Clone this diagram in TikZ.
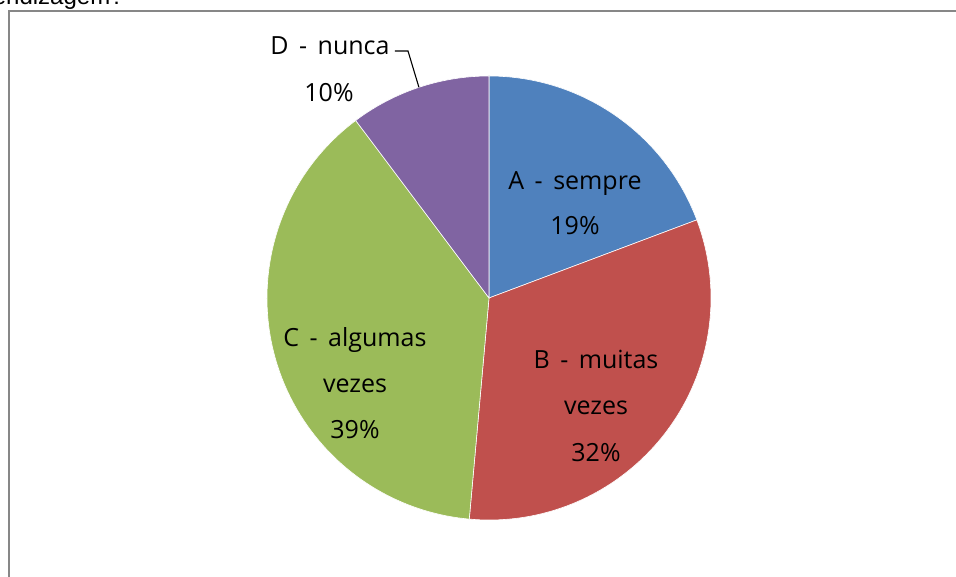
\documentclass[tikz,border=0pt]{standalone}
\usepackage{fontspec}
\usetikzlibrary{calc}
\setmainfont{Open Sans}
\newfontfamily\qfont{Liberation Sans}
\newcommand\dsh{\hspace{0.42em}-\hspace{0.42em}}
\definecolor{sA}{HTML}{4F81BD}
\definecolor{sB}{HTML}{C0504D}
\definecolor{sC}{HTML}{9BBB59}
\definecolor{sD}{HTML}{8064A2}
\definecolor{frameg}{HTML}{878787}
\begin{document}
\begin{tikzpicture}[x=1pt,y=1pt,
  lbl/.style={anchor=base, inner sep=0pt, font=\fontsize{25}{29}\selectfont},
  slice/.style={draw=white, line width=0.6pt, line join=round}]
\useasboundingbox (0,0) rectangle (956,577);
\fill[white] (0,0) rectangle (956,577);
% question text (cut off at the top)
\node[anchor=base west, inner sep=0pt, font=\qfont\fontsize{24}{28}\selectfont] (q) at (-42,572) {aprendizagem?};
% chart frame
\draw[line width=2pt, draw=frameg] (9,-3) -- (9,566) -- (960,566);
% pie
\coordinate (c) at (489,279);
\filldraw[slice, fill=sA] (c) -- ++(20.6:222pt) arc[start angle=20.6, end angle=90, radius=222pt] -- cycle;
\filldraw[slice, fill=sB] (c) -- ++(-95.1:222pt) arc[start angle=-95.1, end angle=20.6, radius=222pt] -- cycle;
\filldraw[slice, fill=sC] (c) -- ++(126.9:222pt) arc[start angle=126.9, end angle=264.9, radius=222pt] -- cycle;
\filldraw[slice, fill=sD] (c) -- ++(90:222pt) arc[start angle=90, end angle=126.9, radius=222pt] -- cycle;
% labels
\node[lbl] (a1) at (575,387.7) {A\dsh sempre};
\node[lbl] (a2) at (575,342) {19\%};
\node[lbl] (b1) at (596,208) {B\dsh muitas};
\node[lbl] (b2) at (596,162) {vezes};
\node[lbl] (b3) at (596,115) {32\%};
\node[lbl] (c1) at (355,230.3) {C\dsh algumas};
\node[lbl] (c2) at (355,184) {vezes};
\node[lbl] (c3) at (355,138) {39\%};
\node[lbl] (d1) at (330,522) {D\dsh nunca};
\node[lbl] (d2) at (329,475) {10\%};
% leader line
\coordinate (ls) at ([xshift=5pt]d1.east |- 0,526);
\coordinate (le) at (408,526);
\coordinate (lp) at ($(c)+(108.4:222pt)$);
\draw[line width=1.1pt] (ls) -- (le) -- (lp);
\end{tikzpicture}
\end{document}
